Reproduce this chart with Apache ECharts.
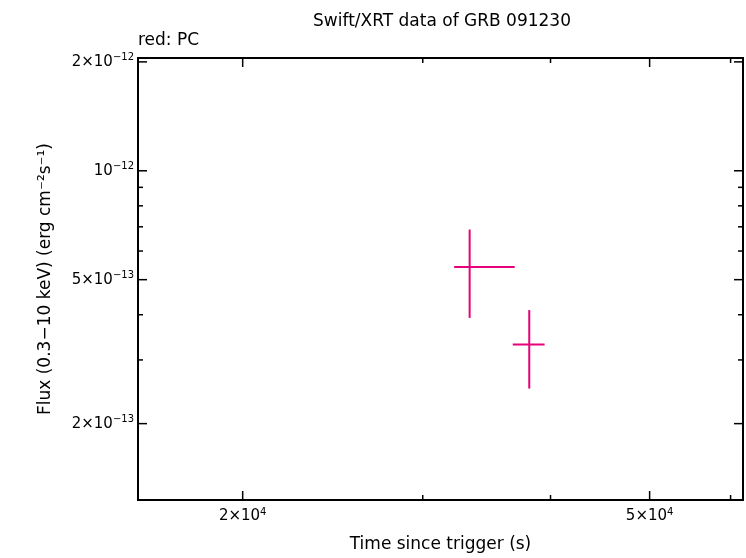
<!DOCTYPE html>
<html><head><meta charset="utf-8">
<script src="https://cdn.jsdelivr.net/npm/echarts@6/dist/echarts.min.js"></script>
<style>html,body{margin:0;padding:0;background:#fff}#c{width:746px;height:558px}</style>
</head><body><div id="c"></div>
<script>
// data: [t, tLow, tHigh, flux, fluxLow, fluxHigh]
const times = [33340, 38130];
const timeLow = [32200, 36740];
const timeHigh = [36900, 39470];
const flux = [5.42e-13, 3.31e-13];
const fluxLow = [3.92e-13, 2.50e-13];
const fluxHigh = [6.88e-13, 4.12e-13];

const xMin = 15800, xMax = 61700, yMin = 1.23e-13, yMax = 2.05e-12;
const xTicks = [20000, 30000, 40000, 50000, 60000];
const xTickLabels = {20000: ['2×10', '4'], 50000: ['5×10', '4']};
const yTicks = [2e-13, 3e-13, 4e-13, 5e-13, 6e-13, 7e-13, 8e-13, 9e-13, 1e-12, 2e-12];
const yTickLabels = {'2e-13': ['2×10', '−13'], '5e-13': ['5×10', '−13'], '1e-12': ['10', '−12'], '2e-12': ['2×10', '−12']};

const col = '#e6007a';
const FF = 'DejaVu Sans';
const rich = {b: {fontSize: 15, fontFamily: FF, color: '#000'}, s: {fontSize: 10, fontFamily: FF, color: '#000', verticalAlign: 'top', padding: [0, 0, 9, 0]}};

const errData = times.map((t, i) => [t, timeLow[i], timeHigh[i], flux[i], fluxLow[i], fluxHigh[i]]);

const chart = echarts.init(document.getElementById('c'));
chart.setOption({
  animation: false,
  title: {text: 'Swift/XRT data of GRB 091230', left: 437, top: 8, textAlign: 'center',
    textStyle: {fontSize: 17, fontWeight: 'normal', fontFamily: FF, color: '#000'}},
  graphic: [{type: 'text', left: 138, top: 32, style: {text: 'red: PC', fontSize: 17, fontFamily: FF, fill: '#000'}}],
  grid: {left: 138, right: 3, top: 58, bottom: 51, show: true, borderColor: '#000', borderWidth: 2, backgroundColor: 'transparent'},
  xAxis: {type: 'log', min: xMin, max: xMax, axisLabel: {show: false}, axisTick: {show: false}, splitLine: {show: false}, axisLine: {show: false},
    name: 'Time since trigger (s)', nameLocation: 'middle', nameGap: 36, nameTextStyle: {fontSize: 17, fontFamily: FF, color: '#000'}},
  yAxis: {type: 'log', min: yMin, max: yMax, axisLabel: {show: false}, axisTick: {show: false}, splitLine: {show: false}, axisLine: {show: false},
    name: 'Flux (0.3−10 keV) (erg cm⁻²s⁻¹)', nameLocation: 'middle', nameGap: 84, nameTextStyle: {fontSize: 17, fontFamily: FF, color: '#000'}},
  series: [
    {type: 'custom', data: errData, clip: false, encode: {x: 0, y: 3},
      renderItem: (p, api) => {
        const c = api.coord([api.value(0), api.value(3)]);
        const xl = api.coord([api.value(1), api.value(3)]);
        const xh = api.coord([api.value(2), api.value(3)]);
        const yl = api.coord([api.value(0), api.value(4)]);
        const yh = api.coord([api.value(0), api.value(5)]);
        const st = {stroke: col, lineWidth: 2};
        return {type: 'group', children: [
          {type: 'line', shape: {x1: xl[0], y1: c[1], x2: xh[0], y2: c[1]}, style: st},
          {type: 'line', shape: {x1: c[0], y1: yl[1], x2: c[0], y2: yh[1]}, style: st}
        ]};
      }},
    {type: 'custom', data: xTicks.map(v => [v, yMin]), clip: false, silent: true, encode: {x: 0, y: 1},
      renderItem: (p, api) => {
        const v = api.value(0);
        const pt = api.coord([v, yMin]);
        const cs = p.coordSys;
        const lab = xTickLabels[v];
        const len = lab ? 9 : 5;
        const ch = [
          {type: 'line', shape: {x1: pt[0], y1: cs.y + cs.height, x2: pt[0], y2: cs.y + cs.height - len}, style: {stroke: '#000', lineWidth: 1.5}},
          {type: 'line', shape: {x1: pt[0], y1: cs.y, x2: pt[0], y2: cs.y + len}, style: {stroke: '#000', lineWidth: 1.5}}
        ];
        if (lab) ch.push({type: 'text', x: pt[0], y: cs.y + cs.height + 7, style: {text: '{b|' + lab[0] + '}{s|' + lab[1] + '}', rich: rich, align: 'center', verticalAlign: 'top'}});
        return {type: 'group', children: ch};
      }},
    {type: 'custom', data: yTicks.map(v => [xMin, v]), clip: false, silent: true, encode: {x: 0, y: 1},
      renderItem: (p, api) => {
        const v = api.value(1);
        const pt = api.coord([xMin, v]);
        const cs = p.coordSys;
        const key = v.toExponential(0).replace('+', '');
        const lab = yTickLabels[key];
        const len = lab ? 9 : 5;
        const ch = [
          {type: 'line', shape: {x1: cs.x, y1: pt[1], x2: cs.x + len, y2: pt[1]}, style: {stroke: '#000', lineWidth: 1.5}},
          {type: 'line', shape: {x1: cs.x + cs.width, y1: pt[1], x2: cs.x + cs.width - len, y2: pt[1]}, style: {stroke: '#000', lineWidth: 1.5}}
        ];
        if (lab) ch.push({type: 'text', x: cs.x - 4, y: pt[1], style: {text: '{b|' + lab[0] + '}{s|' + lab[1] + '}', rich: rich, align: 'right', verticalAlign: 'middle'}});
        return {type: 'group', children: ch};
      }}
  ]
});
</script></body></html>
